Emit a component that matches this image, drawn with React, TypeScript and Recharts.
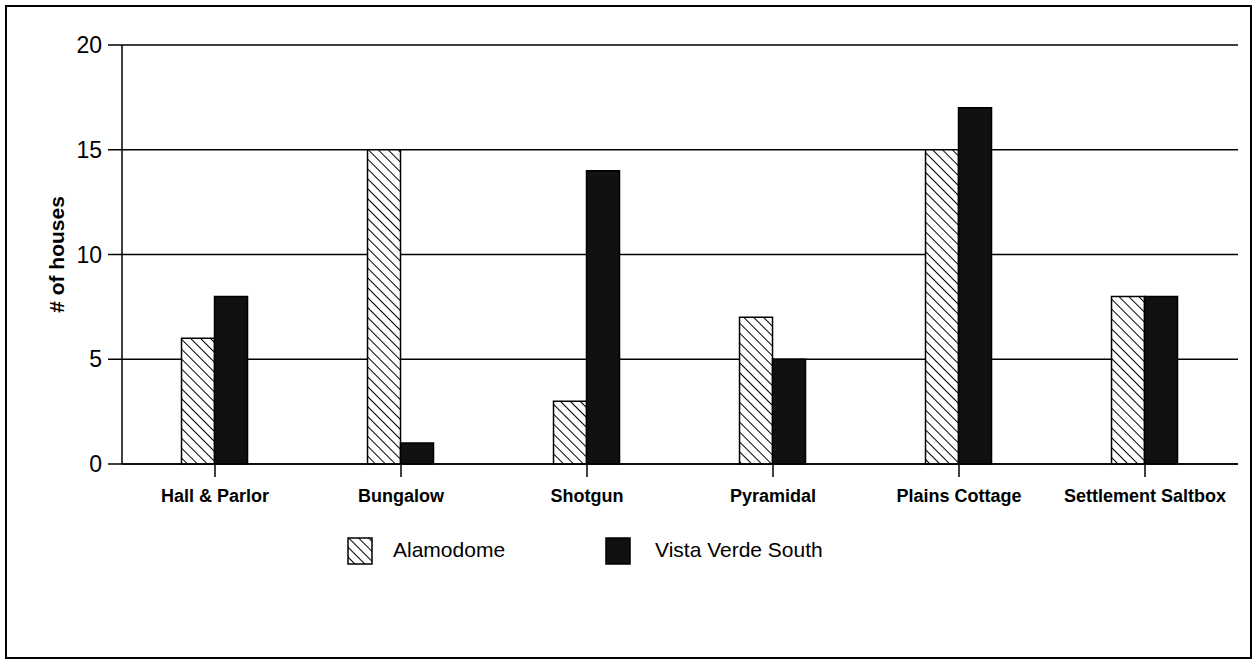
import { Bar, BarChart, CartesianGrid, XAxis, YAxis } from 'recharts';

const categories = ['Hall & Parlor', 'Bungalow', 'Shotgun', 'Pyramidal', 'Plains Cottage', 'Settlement Saltbox'];
const alamodome = [6, 15, 3, 7, 15, 8];
const vistaVerdeSouth = [8, 1, 14, 5, 17, 8];
const yTicks = [0, 5, 10, 15, 20];

const legendItems = [
  { name: 'Alamodome', fill: 'url(#hatch)', icon: 347, text: 393 },
  { name: 'Vista Verde South', fill: '#111', icon: 605, text: 655 },
];

const data = categories.map((name, i) => ({
  name,
  alamodome: alamodome[i],
  vista: vistaVerdeSouth[i],
}));

const fonts = '"Liberation Sans", Arial, sans-serif';

export default function App() {
  return (
    <div style={{ position: 'absolute', left: 0, top: 0, width: 1256, height: 660, background: '#fff' }}>
      <svg width={0} height={0} style={{ position: 'absolute' }}>
        <defs>
          <pattern id="hatch" patternUnits="userSpaceOnUse" width={7} height={7} patternTransform="rotate(-45)">
            <rect width={7} height={7} fill="#fff" />
            <line x1={0} y1={0} x2={0} y2={7} stroke="#000" strokeWidth={2} />
          </pattern>
        </defs>
      </svg>
      <div
        style={{
          position: 'absolute',
          left: 5,
          top: 5,
          width: 1243,
          height: 650,
          border: '2px solid #000',
        }}
      />
      <div style={{ position: 'absolute', left: 0, top: 0 }}>
        <BarChart
          width={1256}
          height={660}
          data={data}
          margin={{ top: 45, right: 18, bottom: 146, left: 42 }}
          barCategoryGap="32%"
          barGap={0}
        >
          <CartesianGrid vertical={false} stroke="#000" strokeWidth={1.5} />
          <XAxis
            dataKey="name"
            stroke="#000"
            strokeWidth={1.5}
            tickSize={13}
            tick={{ fill: '#000', fontFamily: fonts, fontSize: 18, fontWeight: 'bold' }}
            tickMargin={12}
            height={50}
            interval={0}
          />
          <YAxis
            domain={[0, 20]}
            ticks={yTicks}
            width={80}
            stroke="#000"
            strokeWidth={1.5}
            tickSize={14}
            tickMargin={6}
            tick={{ fill: '#000', fontFamily: fonts, fontSize: 23 }}
            label={{
              value: '# of houses',
              angle: -90,
              position: 'insideLeft',
              offset: 15,
              style: { textAnchor: 'middle', fontFamily: fonts, fontSize: 21, fontWeight: 'bold', fill: '#000' },
            }}
          />
          <Bar
            dataKey="alamodome"
            name={legendItems[0].name}
            fill="url(#hatch)"
            stroke="#000"
            strokeWidth={1.5}
            isAnimationActive={false}
          />
          <Bar
            dataKey="vista"
            name={legendItems[1].name}
            fill="#111"
            stroke="#000"
            strokeWidth={1.5}
            isAnimationActive={false}
          />
        </BarChart>
      </div>
      {legendItems.map((item) => (
        <div key={item.name}>
          <svg width={26} height={28} style={{ position: 'absolute', left: item.icon, top: 537 }}>
            <rect x={1} y={1} width={24} height={26} fill={item.fill} stroke="#000" strokeWidth={1.5} />
          </svg>
          <span
            style={{
              position: 'absolute',
              left: item.text,
              top: 538,
              fontFamily: fonts,
              fontSize: 21,
              color: '#000',
              whiteSpace: 'nowrap',
            }}
          >
            {item.name}
          </span>
        </div>
      ))}
    </div>
  );
}
